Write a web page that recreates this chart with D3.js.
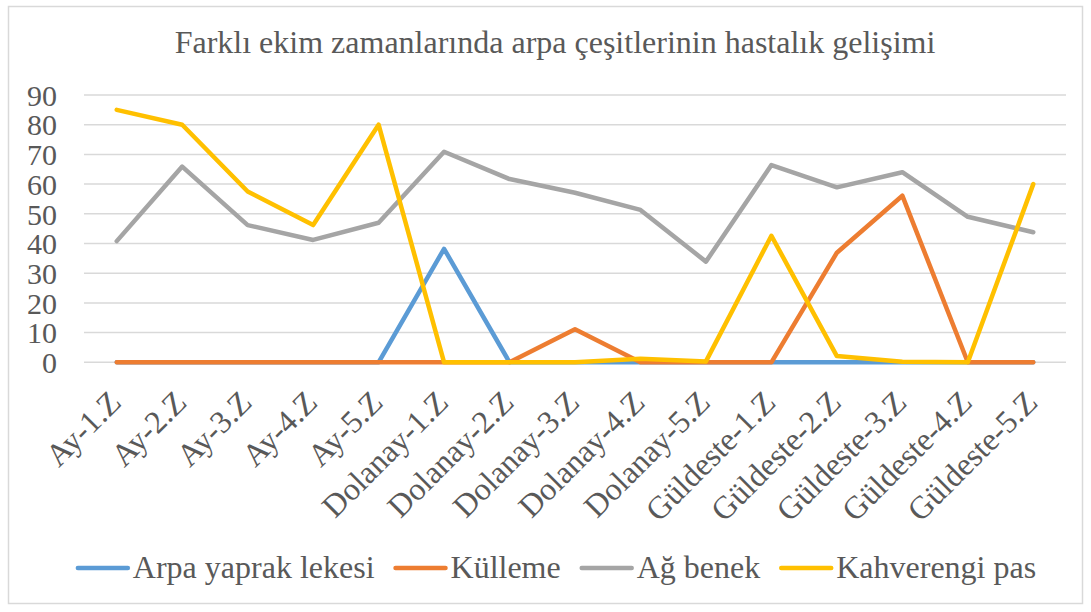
<!DOCTYPE html>
<html>
<head>
<meta charset="utf-8">
<script src="https://cdn.jsdelivr.net/npm/d3@7"></script>
<style>
  body { margin: 0; background: #fff; }
</style>
</head>
<body>
<div id="chart"></div>
<script>
var categories = ["Ay-1.Z", "Ay-2.Z", "Ay-3.Z", "Ay-4.Z", "Ay-5.Z",
    "Dolanay-1.Z", "Dolanay-2.Z", "Dolanay-3.Z", "Dolanay-4.Z", "Dolanay-5.Z",
    "Güldeste-1.Z", "Güldeste-2.Z", "Güldeste-3.Z", "Güldeste-4.Z", "Güldeste-5.Z"];

var arpaYaprakLekesi = [0, 0, 0, 0, 0, 38.2, 0, 0, 0, 0, 0, 0, 0, 0, 0];
var kulleme = [0, 0, 0, 0, 0, 0, 0, 11.1, 0, 0, 0, 36.9, 56.1, 0, 0];
var agBenek = [40.8, 65.9, 46.2, 41.2, 47, 70.9, 61.7, 57.1, 51.3, 33.9, 66.4, 58.9, 64, 49, 43.8];
var kahverengiPas = [85, 80, 57.5, 46.2, 80, 0, 0, 0, 1.2, 0.3, 42.6, 2.1, 0.2, 0, 60];

var yTicks = [0, 10, 20, 30, 40, 50, 60, 70, 80, 90];

var seriesNames = ["Arpa yaprak lekesi", "Külleme", "Ağ benek", "Kahverengi pas"];
var seriesValues = [arpaYaprakLekesi, kulleme, agBenek, kahverengiPas];
var colors = ["#5B9BD5", "#ED7D31", "#A5A5A5", "#FFC000"];

var fontFamily = "Liberation Serif";
var textColor = "#595959";

var svgWidth = 1091, svgHeight = 612;
var margin = { top: 95, right: 25, bottom: 250, left: 84 };
var chartWidth = 1066 - margin.left;
var chartHeight = 362.3 - margin.top;

var svg = d3.select("#chart").append("svg")
    .attr("width", svgWidth)
    .attr("height", svgHeight);

// outer frame
svg.append("rect")
    .attr("x", 8.5).attr("y", 6.5)
    .attr("width", 1074).attr("height", 597)
    .attr("fill", "#fff")
    .attr("stroke", "#D9D9D9")
    .attr("stroke-width", 1.5);

svg.append("text")
    .attr("x", 555)
    .attr("y", 53)
    .attr("text-anchor", "middle")
    .style("font-family", fontFamily)
    .style("font-size", "32px")
    .style("fill", textColor)
    .text("Farklı ekim zamanlarında arpa çeşitlerinin hastalık gelişimi");

var chartGroup = svg.append("g")
    .attr("transform", `translate(${margin.left}, ${margin.top})`);

var xScale = d3.scalePoint()
    .domain(categories)
    .range([0, chartWidth])
    .padding(0.5);

var yScale = d3.scaleLinear()
    .domain([0, 90])
    .range([chartHeight, 0]);

// gridlines
chartGroup.selectAll("line.grid")
    .data(yTicks)
    .enter().append("line")
    .attr("class", "grid")
    .attr("x1", 0).attr("x2", chartWidth)
    .attr("y1", d => yScale(d)).attr("y2", d => yScale(d))
    .attr("stroke", "#D9D9D9")
    .attr("stroke-width", 1.5);

// y axis labels
var leftAxis = d3.axisLeft(yScale).tickValues(yTicks).tickSize(0).tickPadding(27);
var yAxis = chartGroup.append("g").call(leftAxis);
yAxis.select(".domain").remove();
yAxis.selectAll("text")
    .style("font-size", "30px")
    .style("font-family", fontFamily)
    .style("fill", textColor)
    .attr("dy", "0.34em");

// x labels rotated
chartGroup.selectAll("text.xlabel")
    .data(categories)
    .enter().append("text")
    .attr("class", "xlabel")
    .attr("text-anchor", "end")
    .style("font-family", fontFamily)
    .style("font-size", "32px")
    .style("fill", textColor)
    .attr("transform", d => `translate(${xScale(d) + 6}, ${chartHeight + 42}) rotate(-45)`)
    .text(d => d);

// lines
var line = d3.line()
    .x((d, i) => xScale(categories[i]))
    .y(d => yScale(d));

chartGroup.selectAll("path.series")
    .data(seriesValues)
    .enter().append("path")
    .attr("class", "series")
    .attr("d", d => line(d))
    .attr("fill", "none")
    .attr("stroke", (d, i) => colors[i])
    .attr("stroke-width", 4.5)
    .attr("stroke-linejoin", "round")
    .attr("stroke-linecap", "round");

// legend
var legend = svg.append("g");
var lx = 0;
seriesNames.forEach(function(name, i) {
    var item = legend.append("g").attr("transform", `translate(${lx}, 0)`);
    item.append("line")
        .attr("x1", 2).attr("x2", 52)
        .attr("y1", 0).attr("y2", 0)
        .attr("stroke", colors[i])
        .attr("stroke-width", 4.5)
        .attr("stroke-linecap", "round");
    var t = item.append("text")
        .attr("x", 57)
        .attr("y", 10)
        .style("font-family", fontFamily)
        .style("font-size", "32px")
        .style("fill", textColor)
        .text(name);
    lx += 57 + t.node().getComputedTextLength() + 19;
});
var legendWidth = lx - 19;
legend.attr("transform", `translate(${556 - legendWidth / 2}, 568)`);
</script>
</body>
</html>
